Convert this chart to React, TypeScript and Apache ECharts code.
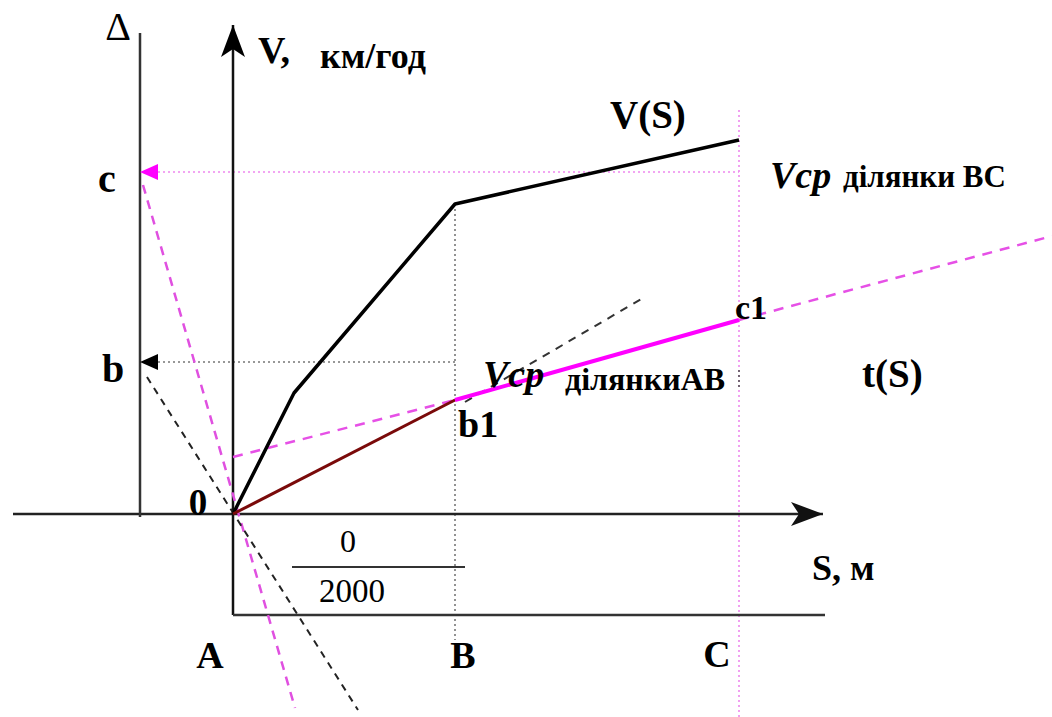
import { useEffect, useRef } from "react";
import * as echarts from "echarts";

// Schematic coordinates: horizontal = S (path), vertical = V / t ; origin at point "0" (A)
const X_RANGE = [-233, 819];
const Y_RANGE = [-203, 514];

const sAxis = [[-220, 0], [590, 0]];
const vAxis = [[0, -101], [0, 489]];
const deltaAxis = [[-93, -3], [-93, 481]];
const baseFrame = [[0, -101], [592, -101]];
const scaleBar = [[59, -53], [232, -53]];

const vOfS = [[0, 0], [61, 121], [222, 310], [506, 374]];
const avgAB = [[0, 0], [222, 114]];
const tOfS = [[222, 114], [506, 194]];
const tDashAB = [[0, 57], [222, 114]];
const tDashAfterC = [[506, 194], [819, 278]];
const tangentB1 = [[232, 112], [410, 216]];
const rayC = [[-90, 329], [62, -194]];
const rayB = [[-86, 137], [125, -196]];
const levelC = [[-75, 342], [506, 342]];
const levelB = [[-75, 152], [222, 152]];
const lineB = [[222, 310], [222, -126]];
const lineC = [[506, 404], [506, -203]];
const lineCgray = [[506, 144], [506, 124]];
const arrowV = [[0, 489]];
const arrowS = [[590, 0]];
const markC = [[-93, 342]];
const markB = [[-93, 152]];

type Lbl = { text: string; x: number; base: number; size: number; bold?: boolean; italic?: boolean; align?: string };
const labels: Lbl[] = [
  { text: "Δ", x: 118, base: 40, size: 40, bold: false, align: "center" },
  { text: "V,", x: 258, base: 63, size: 38 },
  { text: "км/год", x: 320, base: 68, size: 36 },
  { text: "V(S)", x: 610, base: 128, size: 39 },
  { text: "Vср", x: 770, base: 188, size: 38, italic: true },
  { text: "ділянки BC", x: 843, base: 187, size: 31 },
  { text: "c", x: 98, base: 192, size: 40 },
  { text: "b", x: 102, base: 382, size: 40 },
  { text: "c1", x: 735, base: 319, size: 34 },
  { text: "Vср", x: 483, base: 387, size: 38, italic: true },
  { text: "ділянкиAB", x: 565, base: 390, size: 32 },
  { text: "t(S)", x: 862, base: 387, size: 39 },
  { text: "b1", x: 458, base: 437, size: 38 },
  { text: "0", x: 198, base: 515, size: 37, align: "center" },
  { text: "0", x: 348, base: 552, size: 32, bold: false, align: "center" },
  { text: "2000", x: 352, base: 602, size: 33, bold: false, align: "center" },
  { text: "S, м", x: 812, base: 580, size: 36 },
  { text: "A", x: 210, base: 668, size: 38, align: "center" },
  { text: "B", x: 463, base: 668, size: 38, align: "center" },
  { text: "C", x: 717, base: 667, size: 38, align: "center" },
];

const FONT = '"Liberation Serif", "Times New Roman", serif';

function seg(data: number[][], color: string, width: number, type: any, z: number) {
  return {
    type: "line",
    data,
    symbol: "none",
    showSymbol: false,
    silent: true,
    z,
    lineStyle: { color, width, type, cap: "butt" },
  };
}

function head(data: number[][], symbol: string, size: number[], rotate: number, offset: number[], color: string) {
  return {
    type: "scatter",
    data,
    symbol,
    symbolSize: size,
    symbolRotate: rotate,
    symbolOffset: offset,
    silent: true,
    z: 6,
    itemStyle: { color, opacity: 1 },
  };
}

export default function App() {
  const ref = useRef<HTMLDivElement>(null);
  useEffect(() => {
    if (!ref.current) return;
    const chart = echarts.init(ref.current, null, { renderer: "svg" });
    const dotted = [2, 3];
    chart.setOption({
      animation: false,
      backgroundColor: "#ffffff",
      grid: { left: 0, right: 0, top: 0, bottom: 0 },
      xAxis: { type: "value", min: X_RANGE[0], max: X_RANGE[1], show: false },
      yAxis: { type: "value", min: Y_RANGE[0], max: Y_RANGE[1], show: false },
      series: [
        seg(lineB, "#777777", 1.6, dotted, 1),
        seg(lineC, "#ee88ee", 1.6, dotted, 1),
        seg(lineCgray, "#555555", 1.6, dotted, 1),
        seg(levelC, "#ee88ee", 1.6, dotted, 1),
        seg(levelB, "#777777", 1.6, dotted, 1),
        seg(sAxis, "#222222", 2.5, "solid", 2),
        seg(vAxis, "#111111", 2.5, "solid", 2),
        seg(deltaAxis, "#333333", 2.5, "solid", 2),
        seg(baseFrame, "#333333", 2.5, "solid", 2),
        seg(scaleBar, "#333333", 2, "solid", 2),
        seg(rayC, "#e050e0", 2.5, [9, 7], 3),
        seg(rayB, "#222222", 2, [7, 6], 3),
        seg(tangentB1, "#333333", 2, [8, 7], 3),
        seg(tDashAB, "#e650e6", 2.5, [10, 8], 3),
        seg(tDashAfterC, "#e650e6", 2.5, [10, 8], 3),
        seg(vOfS, "#000000", 3.5, "solid", 4),
        seg(avgAB, "#7a0a0a", 3, "solid", 4),
        seg(tOfS, "#ff00ff", 4, "solid", 4),
        head(arrowV, "arrow", [18, 32], 0, [0, 0], "#000000"),
        head(arrowS, "arrow", [18, 32], -90, [0, 0], "#111111"),
        head(markC, "triangle", [16, 18], 90, [9, 0], "#ff00ff"),
        head(markB, "triangle", [16, 18], 90, [9, 0], "#000000"),
      ],
      graphic: labels.map((l) => ({
        type: "text",
        x: l.x,
        y: l.base - 0.34 * l.size,
        z: 10,
        silent: true,
        style: {
          text: l.text,
          fill: "#000000",
          font: `${l.italic ? "italic " : ""}${l.bold === false ? "normal" : "bold"} ${l.size}px ${FONT}`,
          align: l.align || "left",
          verticalAlign: "middle",
        },
      })),
    });
    return () => chart.dispose();
  }, []);
  return (
    <div
      ref={ref}
      style={{ position: "absolute", left: 0, top: 0, width: 1052, height: 717, background: "#fff" }}
    />
  );
}
